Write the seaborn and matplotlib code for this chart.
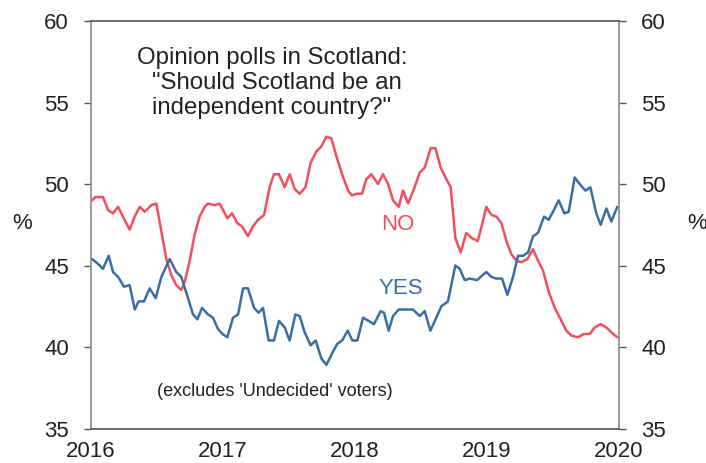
import matplotlib
matplotlib.use("Agg")
import matplotlib.pyplot as plt
import numpy as np
import pandas as pd
import seaborn as sns

# Poll dates as decimal years, values in percent (undecided excluded)
no_dates = [2016.008, 2016.033, 2016.091, 2016.129, 2016.167, 2016.205, 2016.242, 2016.293,
            2016.331, 2016.369, 2016.407, 2016.457, 2016.495, 2016.533, 2016.571, 2016.609,
            2016.646, 2016.684, 2016.710, 2016.748, 2016.785, 2016.823, 2016.861, 2016.886,
            2016.937, 2016.975, 2017.033, 2017.068, 2017.109, 2017.144, 2017.189, 2017.227,
            2017.265, 2017.311, 2017.353, 2017.386, 2017.424, 2017.467, 2017.505, 2017.543,
            2017.581, 2017.624, 2017.664, 2017.707, 2017.745, 2017.783, 2017.821, 2017.859,
            2017.902, 2017.947, 2017.977, 2018.010, 2018.053, 2018.086, 2018.124, 2018.174,
            2018.212, 2018.250, 2018.288, 2018.331, 2018.364, 2018.402, 2018.447, 2018.490,
            2018.528, 2018.573, 2018.609, 2018.649, 2018.692, 2018.725, 2018.760, 2018.800,
            2018.843, 2018.881, 2018.930, 2018.965, 2018.995, 2019.033, 2019.071, 2019.109,
            2019.147, 2019.184, 2019.222, 2019.260, 2019.306, 2019.348, 2019.386, 2019.424,
            2019.467, 2019.513, 2019.558, 2019.601, 2019.639, 2019.689, 2019.735, 2019.778,
            2019.816, 2019.861, 2019.904, 2019.942, 2019.987]
no_values = [49.0, 49.2, 49.2, 48.4, 48.2, 48.6, 48.0, 47.2,
             48.0, 48.6, 48.3, 48.7, 48.8, 47.1, 45.4, 44.4,
             43.8, 43.5, 44.0, 45.3, 46.9, 48.0, 48.6, 48.8,
             48.7, 48.8, 47.9, 48.2, 47.6, 47.4, 46.8, 47.4,
             47.8, 48.1, 49.8, 50.6, 50.6, 49.8, 50.6, 49.7,
             49.4, 49.8, 51.3, 52.0, 52.3, 52.9, 52.8, 51.7,
             50.6, 49.6, 49.3, 49.4, 49.4, 50.3, 50.6, 50.0,
             50.6, 50.0, 49.0, 48.6, 49.6, 48.8, 49.7, 50.7,
             51.0, 52.2, 52.2, 51.0, 50.3, 49.8, 46.7, 45.8,
             47.0, 46.7, 46.5, 47.6, 48.6, 48.1, 48.0, 47.6,
             46.5, 45.7, 45.3, 45.2, 45.4, 46.0, 45.3, 44.7,
             43.4, 42.4, 41.7, 41.0, 40.7, 40.6, 40.8, 40.8,
             41.2, 41.4, 41.2, 40.9, 40.6]

yes_dates = [2016.008, 2016.053, 2016.091, 2016.134, 2016.167, 2016.205, 2016.250, 2016.293,
             2016.331, 2016.361, 2016.402, 2016.444, 2016.490, 2016.533, 2016.596, 2016.646,
             2016.684, 2016.735, 2016.773, 2016.806, 2016.841, 2016.886, 2016.924, 2016.962,
             2016.996, 2017.033, 2017.076, 2017.114, 2017.152, 2017.189, 2017.235, 2017.270,
             2017.303, 2017.346, 2017.386, 2017.424, 2017.467, 2017.505, 2017.548, 2017.581,
             2017.619, 2017.664, 2017.702, 2017.745, 2017.783, 2017.826, 2017.866, 2017.902,
             2017.945, 2017.980, 2018.018, 2018.061, 2018.104, 2018.144, 2018.194, 2018.220,
             2018.255, 2018.288, 2018.331, 2018.376, 2018.439, 2018.490, 2018.528, 2018.571,
             2018.616, 2018.654, 2018.704, 2018.760, 2018.793, 2018.831, 2018.869, 2018.925,
             2018.965, 2018.995, 2019.033, 2019.071, 2019.114, 2019.154, 2019.197, 2019.235,
             2019.273, 2019.311, 2019.349, 2019.386, 2019.432, 2019.467, 2019.500, 2019.543,
             2019.586, 2019.619, 2019.664, 2019.702, 2019.745, 2019.783, 2019.828, 2019.861,
             2019.904, 2019.942, 2019.987]
yes_values = [45.4, 45.1, 44.8, 45.6, 44.6, 44.3, 43.7, 43.8,
              42.3, 42.8, 42.8, 43.6, 43.0, 44.3, 45.4, 44.6,
              44.3, 43.0, 42.0, 41.7, 42.4, 42.0, 41.8, 41.1,
              40.8, 40.6, 41.8, 42.0, 43.6, 43.6, 42.4, 42.1,
              42.4, 40.4, 40.4, 41.6, 41.2, 40.4, 42.0, 41.9,
              40.9, 40.1, 40.4, 39.3, 38.9, 39.6, 40.2, 40.4,
              41.0, 40.4, 40.4, 41.8, 41.6, 41.4, 42.2, 42.1,
              41.0, 41.9, 42.3, 42.3, 42.3, 41.9, 42.2, 41.0,
              41.8, 42.5, 42.8, 45.0, 44.8, 44.1, 44.2, 44.1,
              44.4, 44.6, 44.3, 44.2, 44.2, 43.2, 44.3, 45.6,
              45.6, 45.8, 46.8, 47.0, 48.0, 47.8, 48.3, 49.0,
              48.2, 48.3, 50.4, 50.0, 49.6, 49.8, 48.2, 47.5,
              48.5, 47.7, 48.6]

year_ticks = [2016, 2017, 2018, 2019, 2020]
pct_ticks = [35, 40, 45, 50, 55, 60]

polls = pd.concat([
    pd.DataFrame({"date": no_dates, "share": no_values, "answer": "NO"}),
    pd.DataFrame({"date": yes_dates, "share": yes_values, "answer": "YES"}),
], ignore_index=True)

sns.set_style("white")
plt.rcParams["font.family"] = ["Liberation Sans", "DejaVu Sans"]

text_col = "#222222"
no_col = "#f0505c"
yes_col = "#3a6ea5"

fig = plt.figure(figsize=(7.06, 4.63), dpi=100)
ax = fig.add_axes([0.1289, 0.0745, 0.7479, 0.8801])

sns.lineplot(data=polls, x="date", y="share", hue="answer",
             palette={"NO": no_col, "YES": yes_col}, linewidth=1.8,
             legend=False, ax=ax, estimator=None, sort=False)

ax.set_xlim(2016, 2020)
ax.set_ylim(35, 60)
ax.set_xticks(year_ticks)
ax.set_xticklabels([str(y) for y in year_ticks])
ax.set_yticks(pct_ticks)
ax.set_xlabel("")
ax.set_ylabel("")

for side in ["left", "right", "top", "bottom"]:
    ax.spines[side].set_visible(True)
    ax.spines[side].set_linewidth(1.2)
ax.spines["left"].set_color("#8a8a8a")
ax.spines["right"].set_color("#8a8a8a")
ax.spines["top"].set_color("#555555")
ax.spines["bottom"].set_color("#555555")

ax.tick_params(axis="y", which="both", left=True, right=True, labelleft=True,
               labelright=True, direction="out", length=5, width=1,
               color="#555555", labelsize=16, labelcolor=text_col, pad=11)
ax.tick_params(axis="x", length=0, labelsize=16, labelcolor=text_col, pad=9)

fig.text(22 / 706, 1 - 223 / 463, "%", fontsize=16, color=text_col,
         ha="center", va="center")
fig.text(697 / 706, 1 - 223 / 463, "%", fontsize=16, color=text_col,
         ha="center", va="center")

# Chart heading inside the plot area
fig.text(137 / 706, 1 - 58 / 463, "Opinion polls in Scotland:", fontsize=17.3,
         color=text_col, ha="left", va="center")
fig.text(152 / 706, 1 - 83 / 463, "\"Should Scotland be an", fontsize=17.3,
         color=text_col, ha="left", va="center")
fig.text(152 / 706, 1 - 108 / 463, "independent country?\"", fontsize=17.3,
         color=text_col, ha="left", va="center")

ax.text(2018.20, 47.5, "NO", fontsize=16, color=no_col, ha="left", va="center")
ax.text(2018.18, 43.6, "YES", fontsize=16, color=yes_col, ha="left", va="center")
ax.text(2016.50, 37.3, "(excludes 'Undecided' voters)", fontsize=13,
        color=text_col, ha="left", va="center")

fig.savefig("out.png", dpi=100)
